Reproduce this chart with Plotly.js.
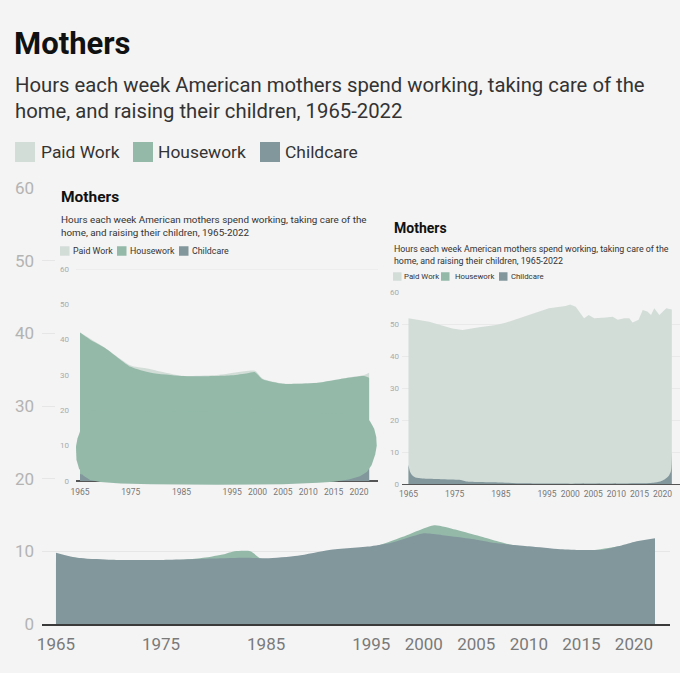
<!DOCTYPE html>
<html><head><meta charset="utf-8">
<script src="https://cdn.plot.ly/plotly-3.0.1.min.js"></script>
<style>html,body{margin:0;padding:0;background:#f4f4f4}</style>
</head><body><div id="chart" style="width:680px;height:673px"></div>
<script>
// ---------- data ----------
const titleText = 'Mothers';
const subtitleText = 'Hours each week American mothers spend working, taking care of the<br>home, and raising their children, 1965-2022';
const seriesNames = ['Paid Work', 'Housework', 'Childcare'];
const tickYears = [1965, 1975, 1985, 1995, 2000, 2005, 2010, 2015, 2020];
const yTicks = [0, 10, 20, 30, 40, 50, 60];

// main chart (only the part below the pasted screenshots is visible)
const mainHouseYears = [1965,1970,1975,1979,1981,1982,1983.5,1984.5,1986,1990,1995,1998,2001,2003,2005,2008,2010,2015,2020,2022];
const mainHousework  = [9.5,8.6,8.6,9.1,9.6,10.0,10.0,9.0,8.9,9.5,10.5,12.0,13.6,13.0,12.2,11.0,10.5,10.0,11.0,11.5];
const mainChildYears = [1965,1967,1970,1975,1980,1983,1985,1988,1991,1995,1997,1999,2000,2003,2005,2007,2010,2013,2015,2017,2018.5,2020,2022];
const mainChildcare  = [9.8,9.1,8.85,8.8,9.0,9.1,9.05,9.4,10.2,10.7,11.2,12.1,12.5,12.0,11.6,11.1,10.7,10.3,10.2,10.2,10.7,11.3,11.8];

// left pasted screenshot
const leftPaidYears  = [1965,1970,1975,1978,1985,1992,1996,1999.5,2001,2005,2012,2017,2021,2022];
const leftPaidWork   = [42,37.6,32.7,31.9,29.8,30.0,30.8,31.2,29.0,27.6,27.9,29.1,30.0,30.6];
const leftHouseYears = [1965,1967,1970,1975,1979,1985,1992,1995,1998,1999.5,2001,2005,2008,2012,2017,2021,2022];
const leftHousework  = [42,40,37.6,32.3,30.6,29.7,29.7,29.9,30.5,30.8,28.8,27.5,27.5,27.8,29.0,29.7,29.2];
const leftChildYears = [1965,1968,1975,1990,2010,2018,2020,2022];
const leftChildcare  = [2.0,1.0,0.5,0.3,0.5,1.0,2.0,4.5];

// right pasted screenshot
const rightPaidYears = [1965,1969.5,1974.5,1976.7,1980.3,1983.9,1986,1989,1992.6,1995.4,1999,2000,2001.2,2003,2004,2005.2,2007.7,2009.2,2010.3,2011.7,2012.8,2013.5,2014.8,2015.7,2016.7,2017.5,2018.2,2019.3,2020.8,2021.8,2022];
const rightPaidWork  = [51.8,50.7,48.6,48.1,49.0,49.7,50.4,51.8,53.6,54.9,55.6,56.1,55.4,51.8,52.8,51.8,52.0,52.3,51.3,51.8,51.8,50.5,51.3,54.4,53.9,52.8,54.9,52.8,54.9,54.6,54.5];
const rightChildYears = [1965,1965.3,1965.8,1966.5,1968,1972,1976,1977.5,1985,1990,2000,2015,2018,2019.5,2020.5,2021.3,2021.8,2022];
const rightChildcare  = [6,4,2.7,2.0,1.7,1.5,1.3,0.8,0.5,0.2,0.1,0.2,0.4,0.8,1.5,2.5,4,10];

// ---------- styling ----------
const W = 680, H = 673;
const px = x => x / W, py = y => 1 - y / H;
const PAID = '#d3ddd8', HOUSE = '#94b9a9', CHILD = '#82979c', BG = '#f4f4f4';
const FONT = 'Roboto, "Liberation Sans", sans-serif';

function area(x, y, color, xa, ya, shape) {
  return {x: x, y: y, type: 'scatter', mode: 'lines', fill: 'tozeroy', fillcolor: color,
    line: {width: 0, shape: shape || 'spline', smoothing: 0.6, color: color},
    xaxis: xa, yaxis: ya, showlegend: false, hoverinfo: 'skip'};
}
const empty = (xa, ya) => ({x: [], y: [], type: 'scatter', mode: 'lines', xaxis: xa, yaxis: ya, showlegend: false, hoverinfo: 'skip'});

const data = [
  area(mainHouseYears, mainHousework, HOUSE, 'x', 'y'),
  area(mainChildYears, mainChildcare, CHILD, 'x', 'y'),
  empty('x2', 'y2'), empty('x3', 'y3'),
  area(leftPaidYears, leftPaidWork, PAID, 'x4', 'y4'),
  area(leftHouseYears, leftHousework, HOUSE, 'x4', 'y4'),
  area(leftChildYears, leftChildcare, CHILD, 'x4', 'y4'),
  area(rightPaidYears, rightPaidWork, PAID, 'x5', 'y5', 'linear'),
  area(rightChildYears, rightChildcare, CHILD, 'x5', 'y5'),
];

const hidden = {visible: false, range: [0, 1], fixedrange: true};

const annotations = [];
const shapes = [];
function text(t, x, y, size, color, bold) {
  annotations.push({text: bold ? '<b>' + t + '</b>' : t, xref: 'paper', yref: 'paper', x: px(x), y: py(y),
    xanchor: 'left', yanchor: 'middle', align: 'left', showarrow: false,
    font: {family: FONT, size: size, color: color}});
}
function legend(items, y, sw, size) {
  const cols = [PAID, HOUSE, CHILD];
  items.forEach((it, i) => {
    shapes.push({type: 'rect', xref: 'paper', yref: 'paper', layer: 'above',
      x0: px(it[0]), x1: px(it[0] + sw), y0: py(y - sw / 2), y1: py(y + sw / 2),
      fillcolor: cols[i], line: {width: 0}});
    text(seriesNames[i], it[1], y, size, '#333');
  });
}
// main header
text(subtitleText, 13, 98, 20.3, '#333');
legend([[15, 39], [133, 156], [260, 283]], 152, 20, 17.4);
// left inset header
text(titleText, 59, 197, 15.5, '#111', true);
text(subtitleText, 59, 226, 9.85, '#333');
legend([[60, 71], [117, 128], [179, 190]], 251, 9.5, 8.8);
// right inset header
text(titleText, 392, 228, 14, '#111', true);
text(subtitleText, 392, 255, 8.86, '#333');
legend([[393, 402], [441, 453], [499, 509]], 276.5, 8.5, 7.8);

// faint top gridline of the left screenshot
shapes.push({type: 'line', xref: 'x4', yref: 'y4', layer: 'below', x0: 1964.21, x1: 2023.75, y0: 60, y1: 60,
  line: {color: '#e6e6e6', width: 1}});

// painted-over blob on the left screenshot
const blob = [[1965,14],[1964.5,12],[1964.2,9.7],[1964.3,6],[1964.8,3.5],[1965.7,1.5],[1967,0.3],[1969,-0.3],[1973,-0.7],[1979,-0.9],[1992,-1.1],[2005,-0.9],[2012,-0.5],[2015,-0.2],[2018,0.4],[2020.2,1.3],[2021.6,2.6],[2022.5,4.5],[2023.2,7.5],[2023.5,10],[2023.4,12.5],[2023.0,14.8],[2022.2,16.8],[2021,19],[1967,20]];
shapes.push({type: 'path', xref: 'x4', yref: 'y4', layer: 'above', fillcolor: HOUSE, line: {width: 0},
  path: 'M' + blob.map(p => p[0] + ',' + p[1]).join(' L') + ' Z'});

const layout = {
  width: W, height: H, margin: {l: 0, r: 0, t: 0, b: 0},
  paper_bgcolor: BG, plot_bgcolor: BG, showlegend: false,
  title: {text: '<b>' + titleText + '</b>', x: px(14), xanchor: 'left', y: py(43), yanchor: 'middle',
    font: {family: FONT, size: 31, color: '#111'}},
  xaxis: {domain: [px(42), px(670)], range: [1963.67, 2023.43], tickvals: tickYears, ticktext: tickYears.map(String),
    showgrid: false, zeroline: false, showline: true, linecolor: '#3a3a3a', linewidth: 2, ticks: '',
    ticklabelstandoff: 4, tickfont: {family: FONT, size: 17, color: '#7a7a7a'}, anchor: 'y', fixedrange: true},
  yaxis: {domain: [py(624), py(188)], range: [0, 60], tickvals: yTicks, ticktext: yTicks.map(String),
    showgrid: true, gridcolor: '#e6e6e6', gridwidth: 1, zeroline: false, ticks: '', ticklabelstandoff: 7,
    tickfont: {family: FONT, size: 17, color: '#b3b3b3'}, anchor: 'x', fixedrange: true},
  xaxis2: Object.assign({domain: [px(55), px(384)], anchor: 'y2'}, hidden),
  yaxis2: Object.assign({domain: [py(500), py(184)], anchor: 'x2'}, hidden),
  xaxis3: Object.assign({domain: [px(383), 1], anchor: 'y3'}, hidden),
  yaxis3: Object.assign({domain: [py(506), py(193)], anchor: 'x3'}, hidden),
  xaxis4: {domain: [px(76), px(378)], range: [1964.21, 2023.75], tickvals: tickYears, ticktext: tickYears.map(String),
    showgrid: false, zeroline: false, showline: false, ticks: '', ticklabelstandoff: 0,
    tickfont: {family: FONT, size: 8.5, color: '#777'}, anchor: 'y4', fixedrange: true},
  yaxis4: {domain: [py(485.2), py(269)], range: [-1.2, 60], tickvals: yTicks, ticktext: yTicks.map(String),
    showgrid: false, zeroline: true, zerolinecolor: '#555', zerolinewidth: 1.2, ticks: '',
    ticklabelstandoff: 6, tickfont: {family: FONT, size: 8, color: '#aaa'}, anchor: 'x4', fixedrange: true},
  xaxis5: {domain: [px(402), 1], range: [1963.6, 2023.77], tickvals: tickYears, ticktext: tickYears.map(String),
    showgrid: false, zeroline: false, showline: true, linecolor: '#555', linewidth: 1, ticks: '', ticklabelstandoff: 2,
    tickfont: {family: FONT, size: 8.5, color: '#777'}, anchor: 'y5', fixedrange: true},
  yaxis5: {domain: [py(484), py(292)], range: [0, 60], tickvals: yTicks, ticktext: yTicks.map(String),
    showgrid: true, gridcolor: '#e9e9e9', zeroline: false, ticks: '', ticklabelstandoff: 2,
    tickfont: {family: FONT, size: 8, color: '#aaa'}, anchor: 'x5', fixedrange: true},
  annotations: annotations, shapes: shapes
};
Plotly.newPlot('chart', data, layout, {displayModeBar: false, staticPlot: true});
</script></body></html>
